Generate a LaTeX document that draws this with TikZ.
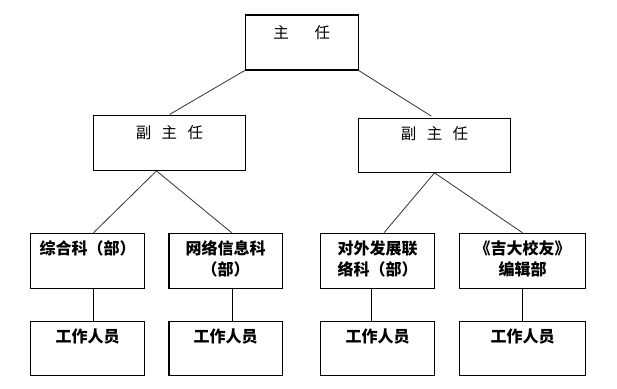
\documentclass[tikz,border=0pt]{standalone}
\usepackage{fontspec}
\newfontfamily\cjk{Noto Sans CJK SC}
\usepackage{tikz}

\begin{document}
\begin{tikzpicture}[
  x=1pt, y=-1pt,
  box/.style={draw, line width=1.1pt, inner sep=0pt, align=center},
  head/.style={box, text width=113pt, text height=23pt, text depth=32pt,
    font=\cjk\fontsize{15.5pt}{20pt}\selectfont},
  vice/.style={box, text width=152pt, text height=23pt, text depth=32.3pt,
    font=\cjk\fontsize{15.5pt}{20pt}\selectfont},
  dept/.style={box, text width=113.5pt, text height=21.5pt, text depth=33.5pt,
    font=\cjk\bfseries\fontsize{16pt}{21pt}\selectfont},
  staff/.style={box, text width=113.5pt, text height=21.5pt, text depth=32.2pt,
    font=\cjk\bfseries\fontsize{16pt}{21pt}\selectfont},
  link/.style={draw=black!80, line width=0.8pt},
  stem/.style={draw=black, line width=1.1pt}
]
  \useasboundingbox (0,0) rectangle (617,388);

  \node[head] (zr) at (301.7,42.5) {主\hspace{25.8pt}任};
  \node[vice] (fz1) at (169.5,142.7) {副\hspace{10.5pt}主\hspace{10.5pt}任};
  \node[vice, text height=20.5pt, text depth=33.1pt] (fz2) at (434.5,145.5) {副\hspace{10.5pt}主\hspace{10.5pt}任};

  \node[dept] (k1) at (87.5,260.8) {综合科（部）};
  \node[dept] (k2) at (225.7,260.8) {网络信息科\\（部）};
  \node[dept] (k3) at (377.5,260.8) {对外发展联\\络科（部）};
  \node[dept, text width=126.5pt] (k4) at (522.5,260.8) {《吉大校友》\\编辑部};

  \node[staff] (s1) at (87.5,348.2) {工作人员};
  \node[staff] (s2) at (225.7,348.2) {工作人员};
  \node[staff] (s3) at (377.5,348.2) {工作人员};
  \node[staff, text width=126.5pt] (s4) at (522.5,348.2) {工作人员};

  \draw[link] (zr.south west) -- (fz1.north);
  \draw[link, shorten >=3.7pt] (zr.south east) -- (fz2.north);
  \draw[link] ([xshift=-13pt]fz1.south) -- ([xshift=6pt]k1.north);
  \draw[link] ([xshift=-13pt]fz1.south) -- ([xshift=6pt]k2.north);
  \draw[link] (fz2.south) -- ([xshift=6.5pt]k3.north);
  \draw[link] (fz2.south) -- (k4.north);

  \draw[stem] ([xshift=6pt]k1.south) -- ([xshift=6pt]s1.north);
  \draw[stem] ([xshift=6.5pt]k2.south) -- ([xshift=6.5pt]s2.north);
  \draw[stem] ([xshift=-6pt]k3.south) -- ([xshift=-6pt]s3.north);
  \draw[stem] (k4.south) -- (s4.north);
\end{tikzpicture}
\end{document}
